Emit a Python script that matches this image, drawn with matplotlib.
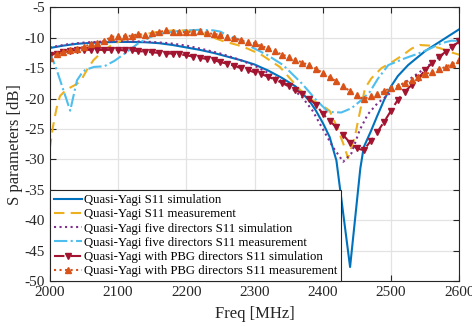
import matplotlib
matplotlib.use("Agg")
import matplotlib.pyplot as plt
import numpy as np

plt.rcParams['font.family'] = ['Liberation Serif', 'DejaVu Serif']
plt.rcParams['axes.unicode_minus'] = False

# Quasi-Yagi S11 simulation
f_sim = [2000, 2020, 2040, 2060, 2080, 2100, 2120, 2140, 2160, 2180, 2200, 2220, 2240,
         2260, 2280, 2300, 2320, 2340, 2360, 2380, 2390, 2400, 2410, 2420, 2440, 2455,
         2460, 2470, 2480, 2490, 2500, 2510, 2525, 2550, 2575, 2600]
s_sim = [-11.7, -11.3, -11.0, -10.85, -10.75, -10.7, -10.7, -10.75, -10.9, -11.2, -11.6,
         -12.0, -12.5, -13.1, -13.7, -14.4, -15.4, -16.6, -18.0, -20.3, -22.0, -24.0,
         -26.3, -30.2, -47.7, -31.5, -28.0, -25.5, -22.8, -20.2, -18.0, -16.3, -14.5,
         -12.2, -10.4, -8.6]

# Quasi-Yagi S11 measurement
f_meas = [2000, 2005, 2010, 2015, 2022, 2030, 2040, 2047, 2055, 2064, 2078, 2093, 2110,
          2130, 2155, 2180, 2200, 2220, 2240, 2255, 2275, 2290, 2310, 2337, 2352, 2367,
          2385, 2400, 2410, 2420, 2430, 2437, 2447, 2452, 2457, 2462, 2471, 2486, 2503,
          2518, 2530, 2542, 2557, 2571, 2591, 2600]
s_meas = [-28.3, -24.5, -21.6, -19.6, -18.8, -18.2, -17.6, -16.8, -15.2, -13.7, -12.2,
          -11.0, -10.3, -9.6, -9.1, -8.8, -8.8, -9.2, -10.0, -10.6, -11.2, -11.8, -12.8,
          -14.8, -16.7, -18.6, -20.3, -21.2, -22.0, -24.5, -27.4, -29.8, -26.3, -23.5,
          -20.8, -18.3, -16.7, -15.0, -13.9, -12.8, -11.8, -11.2, -11.3, -11.7, -12.5, -12.8]

# five directors simulation
f_five_sim = [2000, 2025, 2050, 2075, 2100, 2125, 2150, 2175, 2200, 2225, 2250, 2275, 2300,
              2325, 2350, 2370, 2385, 2400, 2415, 2430, 2442, 2454, 2466, 2480, 2500, 2525,
              2550, 2575, 2600]
s_five_sim = [-11.6, -11.1, -10.8, -10.65, -10.6, -10.6, -10.7, -10.9, -11.3, -11.9, -12.6,
              -13.5, -14.6, -16.1, -17.9, -19.8, -22.0, -25.0, -28.0, -30.4, -29.0, -25.2,
              -22.6, -20.8, -19.0, -17.0, -15.0, -12.8, -10.5]

# five directors measurement
f_five_meas = [2000, 2010, 2020, 2030, 2036, 2040, 2046, 2052, 2065, 2080, 2095, 2110, 2130,
               2155, 2180, 2200, 2220, 2240, 2250, 2260, 2280, 2295, 2318, 2342, 2370, 2390,
               2408, 2427, 2442, 2454, 2469, 2481, 2496, 2520, 2540, 2559, 2574, 2588, 2600]
s_five_meas = [-12.3, -15.2, -18.6, -22.0, -19.0, -17.0, -16.0, -15.3, -14.8, -14.7, -13.8,
               -12.6, -10.9, -9.5, -9.0, -8.8, -8.7, -8.8, -9.0, -9.6, -10.4, -11.5, -12.8,
               -14.5, -17.6, -20.2, -22.2, -22.3, -21.6, -20.5, -18.9, -16.7, -14.5, -13.4,
               -12.6, -11.7, -10.9, -10.5, -10.5]

# PBG directors (10 MHz steps, 2000..2600)
f_pbg = list(range(2000, 2601, 10))
s_pbg_sim = [-12.9, -12.6, -12.4, -12.2, -12.0, -12.0, -12.0, -12.0, -12.0, -12.0, -12.0,
             -12.1, -12.1, -12.2, -12.3, -12.4, -12.5, -12.6, -12.6, -12.7, -12.9, -13.1,
             -13.3, -13.5, -13.7, -14.0, -14.3, -14.6, -15.0, -15.3, -15.7, -16.0, -16.4,
             -16.9, -17.4, -18.0, -18.6, -19.2, -20.0, -21.0, -22.5, -23.7, -24.7, -26.0,
             -27.3, -28.2, -28.5, -27.0, -25.5, -23.8, -22.0, -20.2, -18.9, -17.8, -16.7,
             -15.3, -14.2, -13.2, -12.3, -11.5, -10.6]
s_pbg_meas = [-13.3, -12.7, -12.4, -12.1, -11.8, -11.5, -11.1, -10.9, -10.5, -9.9, -9.7,
              -9.7, -9.7, -9.4, -9.6, -9.3, -9.1, -8.8, -9.0, -9.0, -9.1, -9.0, -8.9, -9.2,
              -9.4, -9.5, -9.9, -10.1, -10.4, -10.7, -10.9, -11.4, -11.7, -12.2, -12.8,
              -13.1, -13.6, -14.1, -14.5, -15.1, -15.8, -16.5, -17.2, -18.0, -18.8, -19.5,
              -20.1, -19.6, -19.3, -18.8, -18.2, -17.9, -17.4, -16.9, -16.4, -16.0, -15.6,
              -15.2, -14.8, -14.3, -13.7]

labels = ['Quasi-Yagi S11 simulation',
          'Quasi-Yagi S11 measurement',
          'Quasi-Yagi five directors S11 simulation',
          'Quasi-Yagi five directors S11 measurement',
          'Quasi-Yagi with PBG directors S11 simulation',
          'Quasi-Yagi with PBG directors S11 measurement']

fig = plt.figure(figsize=(4.72, 3.27), dpi=100)
ax = fig.add_axes([0.1053, 0.1407, 0.8678, 0.837])

lw = 1.5
ax.plot(f_sim, s_sim, '-', color='#0072BD', lw=lw, label=labels[0])
ax.plot(f_meas, s_meas, '--', color='#EDB120', lw=lw, dashes=(5, 3), label=labels[1])
ax.plot(f_five_sim, s_five_sim, ':', color='#7E2F8E', lw=lw, label=labels[2])
ax.plot(f_five_meas, s_five_meas, '-.', color='#4DBEEE', lw=lw, label=labels[3])
ax.plot(f_pbg, s_pbg_sim, '--', color='#A2142F', lw=lw, dashes=(5, 3), marker='v',
        ms=4.3, label=labels[4])
ax.plot(f_pbg, s_pbg_meas, ':', color='#D95319', lw=lw, marker='^', ms=4.3,
        label=labels[5])

ax.set_xlim(2000, 2600)
ax.set_ylim(-50, -5)
ax.set_xticks(np.arange(2000, 2601, 100))
ax.set_yticks(np.arange(-50, -4, 5))
ax.grid(True, color='#e3e3e3', lw=0.9)
ax.set_axisbelow(True)
ax.tick_params(direction='in', top=True, right=True, labelsize=11, colors='#262626',
               length=4, width=0.8)
for sp in ax.spines.values():
    sp.set_color('#262626')
    sp.set_linewidth(0.8)

ax.set_xlabel('Freq [MHz]', fontsize=12, color='#262626', labelpad=5)
ax.set_ylabel('S parameters [dB]', fontsize=12, color='#262626', labelpad=1)

leg = ax.legend(loc='lower left', bbox_to_anchor=(0, 0), borderaxespad=0,
                fontsize=9.2, fancybox=False, framealpha=1, edgecolor='#262626',
                handlelength=2.2, handletextpad=0.2, labelspacing=0.17,
                borderpad=0.3)
leg.get_frame().set_linewidth(0.8)

fig.savefig('out.png', dpi=100)
